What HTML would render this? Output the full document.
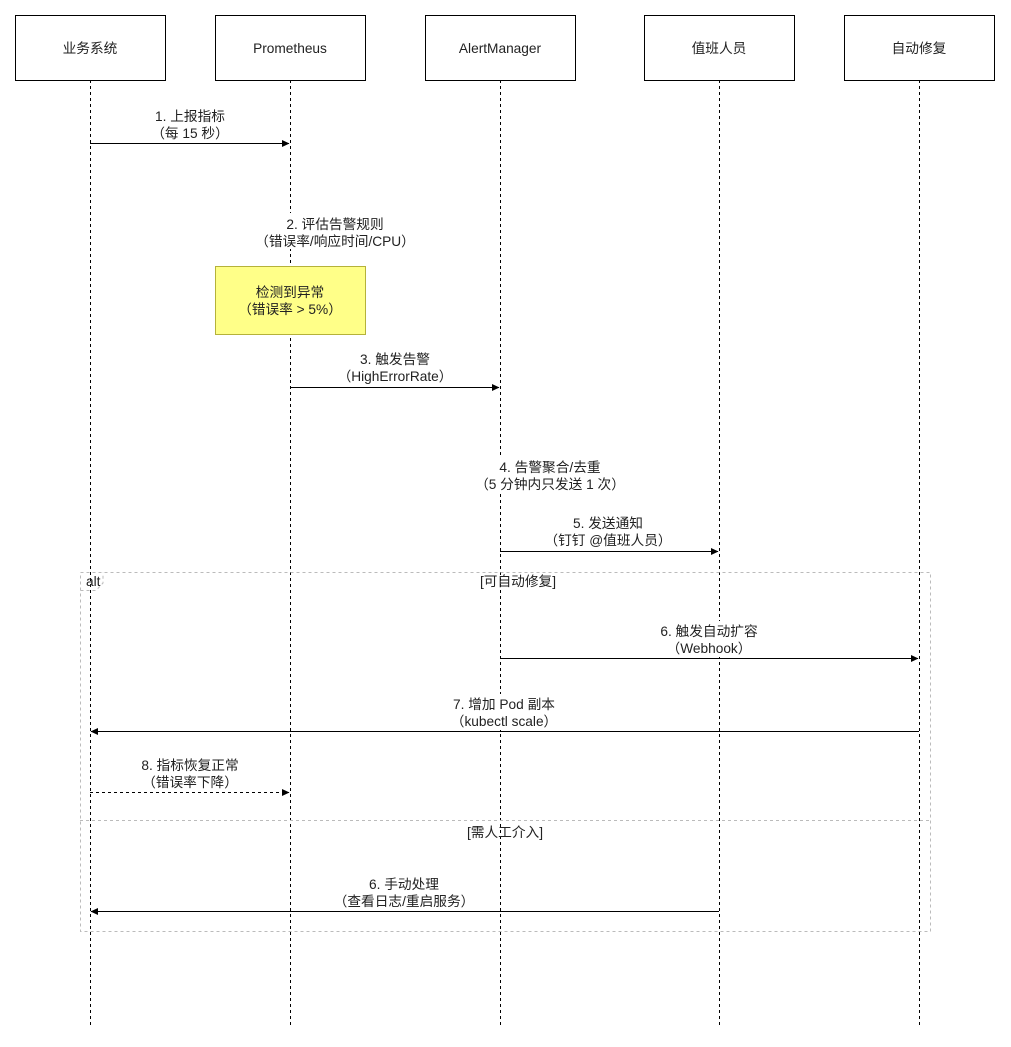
<!DOCTYPE html>
<html><head><meta charset="utf-8"><style>
html,body{margin:0;padding:0;background:#fff;}
svg text{font-family:"Liberation Sans","Noto Sans CJK SC",sans-serif;font-size:13.7px;fill:#222;}
</style></head><body>
<svg width="1011" height="1042" viewBox="0 0 1011 1042" xmlns="http://www.w3.org/2000/svg">
<defs><marker id="a" markerWidth="8" markerHeight="8" refX="7" refY="4" orient="auto" markerUnits="userSpaceOnUse"><path d="M0,0.5 L7.5,4 L0,7.5 Z" fill="#000"/></marker></defs>
<g stroke="#000" stroke-dasharray="3,3" stroke-width="1">
<line x1="90.5" y1="80" x2="90.5" y2="1025"/>
<line x1="290.5" y1="80" x2="290.5" y2="1025"/>
<line x1="500.5" y1="80" x2="500.5" y2="1025"/>
<line x1="719.5" y1="80" x2="719.5" y2="1025"/>
<line x1="919.5" y1="80" x2="919.5" y2="1025"/>
</g>
<g fill="#fff" stroke="#000">
<rect x="15.5" y="15.5" width="150" height="65"/>
<rect x="215.5" y="15.5" width="150" height="65"/>
<rect x="425.5" y="15.5" width="150" height="65"/>
<rect x="644.5" y="15.5" width="150" height="65"/>
<rect x="844.5" y="15.5" width="150" height="65"/>
</g>
<g text-anchor="middle">
<text x="90" y="53">业务系统</text>
<text x="290" y="53">Prometheus</text>
<text x="500" y="53">AlertManager</text>
<text x="719" y="53">值班人员</text>
<text x="919" y="53">自动修复</text>
</g>
<g stroke="#bbb" stroke-dasharray="3,3" fill="none">
<rect x="80.5" y="572.5" width="850" height="359"/>
<line x1="80" y1="820.5" x2="930" y2="820.5"/>
<path d="M80.5,590.5 L96,590.5 L103,583 L103,572.5"/>
</g>
<text x="86" y="586">alt</text>
<text x="518" y="586" text-anchor="middle">[可自动修复]</text>
<text x="505" y="837" text-anchor="middle">[需人工介入]</text>
<g stroke="#000" fill="none">
<line x1="90" y1="143.5" x2="289" y2="143.5" marker-end="url(#a)"/>
<line x1="290" y1="387.5" x2="499" y2="387.5" marker-end="url(#a)"/>
<line x1="500" y1="551.5" x2="718" y2="551.5" marker-end="url(#a)"/>
<line x1="500" y1="658.5" x2="918" y2="658.5" marker-end="url(#a)"/>
<line x1="919" y1="731.5" x2="91" y2="731.5" marker-end="url(#a)"/>
<line x1="90" y1="792.5" x2="289" y2="792.5" stroke-dasharray="3,3" marker-end="url(#a)"/>
<line x1="719" y1="911.5" x2="91" y2="911.5" marker-end="url(#a)"/>
</g>
<g fill="#fff">
<rect x="145" y="106" width="90" height="34"/>
<rect x="250" y="213" width="170" height="36"/>
<rect x="335" y="349" width="120" height="36"/>
<rect x="470" y="457" width="160" height="36"/>
<rect x="540" y="513" width="135" height="36"/>
<rect x="650" y="621" width="120" height="36"/>
<rect x="445" y="694" width="120" height="36"/>
<rect x="130" y="755" width="120" height="36"/>
<rect x="330" y="874" width="148" height="36"/>
</g>
<g text-anchor="middle">
<text x="190" y="121">1. 上报指标</text><text x="190" y="138">（每 15 秒）</text>
<text x="335" y="229">2. 评估告警规则</text><text x="335" y="246">（错误率/响应时间/CPU）</text>
<text x="395" y="364">3. 触发告警</text><text x="395" y="381">（HighErrorRate）</text>
<text x="550" y="472">4. 告警聚合/去重</text><text x="550" y="489">（5 分钟内只发送 1 次）</text>
<text x="608" y="528">5. 发送通知</text><text x="608" y="545">（钉钉 @值班人员）</text>
<text x="709" y="636">6. 触发自动扩容</text><text x="709" y="653">（Webhook）</text>
<text x="504" y="709">7. 增加 Pod 副本</text><text x="504" y="726">（kubectl scale）</text>
<text x="190" y="770">8. 指标恢复正常</text><text x="190" y="787">（错误率下降）</text>
<text x="404" y="889">6. 手动处理</text><text x="404" y="906">（查看日志/重启服务）</text>
</g>
<rect x="215.5" y="266.5" width="150" height="68" fill="#ffff88" stroke="#b5b23a"/>
<text x="290" y="297" text-anchor="middle">检测到异常</text>
<text x="290" y="314" text-anchor="middle">（错误率 &gt; 5%）</text>
</svg>
</body></html>
